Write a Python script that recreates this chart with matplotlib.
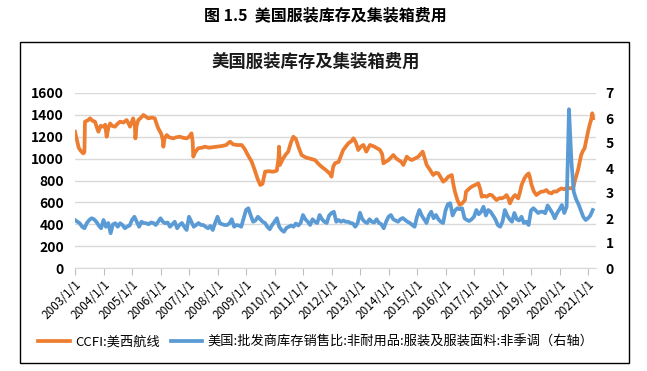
import matplotlib
matplotlib.use('Agg')
import matplotlib.pyplot as plt
from matplotlib.patches import Rectangle
import numpy as np

plt.rcParams['font.family'] = ['Noto Sans CJK SC', 'DejaVu Sans']

# CCFI:美西航线 (周度, 拐点, 年份小数)
ccfi_t = [2003.00, 2003.04, 2003.08, 2003.13, 2003.18, 2003.24, 2003.29, 2003.33, 2003.35, 2003.45,
          2003.53, 2003.62, 2003.70, 2003.76, 2003.82, 2003.90, 2004.00, 2004.06, 2004.11, 2004.17,
          2004.23, 2004.30, 2004.40, 2004.50, 2004.58, 2004.70, 2004.81, 2004.88, 2004.93, 2005.00,
          2005.04, 2005.10, 2005.12, 2005.16, 2005.22, 2005.30, 2005.40, 2005.48, 2005.57, 2005.70,
          2005.80, 2005.86, 2005.92, 2006.00, 2006.04, 2006.08, 2006.10, 2006.14, 2006.22, 2006.30,
          2006.45, 2006.55, 2006.68, 2006.80, 2006.92, 2007.00, 2007.09, 2007.13, 2007.15, 2007.22,
          2007.32, 2007.45, 2007.56, 2007.70, 2007.85, 2008.00, 2008.15, 2008.30, 2008.44, 2008.55,
          2008.70, 2008.85, 2008.95, 2009.05, 2009.20, 2009.30, 2009.40, 2009.50, 2009.58, 2009.67,
          2009.80, 2009.95, 2010.08, 2010.14, 2010.16, 2010.19, 2010.30, 2010.40, 2010.48, 2010.58,
          2010.66, 2010.75, 2010.85, 2010.95, 2011.10, 2011.25, 2011.42, 2011.55, 2011.65, 2011.78,
          2011.87, 2011.95, 2012.00, 2012.06, 2012.12, 2012.25, 2012.41, 2012.59, 2012.70, 2012.77,
          2012.85, 2012.94, 2013.03, 2013.12, 2013.22, 2013.35, 2013.50, 2013.70, 2013.78, 2013.82,
          2013.90, 2014.00, 2014.17, 2014.28, 2014.35, 2014.45, 2014.52, 2014.60, 2014.64, 2014.72,
          2014.81, 2014.92, 2015.05, 2015.12, 2015.20, 2015.34, 2015.45, 2015.57, 2015.66, 2015.75,
          2015.85, 2015.92, 2016.02, 2016.10, 2016.22, 2016.28, 2016.33, 2016.42, 2016.50, 2016.58,
          2016.63, 2016.68, 2016.72, 2016.85, 2016.92, 2017.04, 2017.15, 2017.22, 2017.27, 2017.36,
          2017.44, 2017.55, 2017.62, 2017.72, 2017.79, 2017.90, 2017.97, 2018.08, 2018.14, 2018.20,
          2018.26, 2018.35, 2018.44, 2018.50, 2018.55, 2018.62, 2018.67, 2018.77, 2018.85, 2018.92,
          2018.97, 2019.02, 2019.10, 2019.19, 2019.30, 2019.37, 2019.45, 2019.54, 2019.62, 2019.72,
          2019.80, 2019.89, 2019.98, 2020.07, 2020.16, 2020.25, 2020.34, 2020.42, 2020.50, 2020.53,
          2020.60, 2020.65, 2020.70, 2020.76, 2020.82, 2020.88, 2020.95, 2021.00, 2021.06, 2021.12,
          2021.15, 2021.18]
ccfi_v = [1246, 1200, 1155, 1100, 1079, 1060, 1048, 1060, 1338, 1350,
          1368, 1345, 1338, 1290, 1246, 1300, 1292, 1310, 1200, 1280,
          1322, 1300, 1292, 1320, 1338, 1330, 1353, 1320, 1292, 1340,
          1368, 1300, 1185, 1300, 1353, 1370, 1399, 1385, 1368, 1375,
          1368, 1320, 1277, 1240, 1216, 1170, 1109, 1180, 1216, 1195,
          1185, 1195, 1200, 1190, 1185, 1200, 1231, 1150, 1018, 1060,
          1094, 1100, 1109, 1100, 1105, 1110, 1115, 1124, 1155, 1130,
          1124, 1124, 1090, 1040, 972, 900, 820, 759, 770, 881,
          885, 880, 890, 1000, 1109, 942, 1000, 1040, 1063, 1150,
          1200, 1180, 1100, 1033, 1010, 1000, 987, 950, 926, 900,
          880, 860, 835, 926, 957, 970, 1079, 1140, 1160, 1186,
          1150, 1079, 1110, 1125, 1064, 1125, 1110, 1079, 1040, 957,
          970, 987, 1033, 1000, 987, 970, 942, 990, 1018, 1000,
          987, 1000, 1018, 1040, 1064, 942, 900, 850, 870, 865,
          820, 789, 810, 835, 850, 760, 698, 620, 576, 590,
          606, 620, 698, 730, 744, 759, 774, 720, 652, 660,
          652, 670, 667, 640, 621, 640, 636, 650, 667, 640,
          591, 640, 667, 650, 636, 700, 759, 820, 850, 865,
          820, 759, 700, 667, 690, 698, 700, 713, 690, 682,
          700, 698, 715, 728, 720, 733, 730, 728, 750, 789,
          850, 896, 960, 1033, 1070, 1094, 1180, 1246, 1310, 1368,
          1415, 1370]

# 美国:批发商库存销售比:非耐用品:服装及服装面料:非季调 (月度, 2003/1 起)
ratio_2003_2007 = [1.92, 1.85, 1.79, 1.65, 1.59, 1.80, 1.92, 1.99, 1.95, 1.85, 1.70, 1.59,
                   1.92, 1.65, 1.80, 1.39, 1.75, 1.79, 1.65, 1.79, 1.72, 1.59, 1.66, 1.70,
                   1.92, 2.05, 1.85, 1.65, 1.85, 1.80, 1.79, 1.75, 1.82, 1.80, 1.72, 1.85,
                   1.99, 1.85, 1.79, 1.82, 1.65, 1.75, 1.85, 1.59, 1.72, 1.80, 1.65, 1.52,
                   2.05, 1.85, 1.65, 1.72, 1.80, 1.72, 1.72, 1.65, 1.59, 1.68, 1.52, 1.80]
ratio_2008_2012 = [2.05, 1.79, 1.75, 1.72, 1.72, 1.78, 1.95, 1.65, 1.72, 1.70, 1.65, 1.99,
                   2.32, 2.39, 2.10, 1.85, 1.90, 2.05, 1.95, 1.85, 1.80, 1.65, 1.55, 1.72,
                   1.85, 1.99, 1.65, 1.52, 1.45, 1.60, 1.65, 1.70, 1.65, 1.78, 1.70, 1.80,
                   2.12, 1.95, 1.85, 1.72, 1.95, 1.85, 1.80, 2.12, 1.95, 1.85, 1.80, 2.10,
                   2.20, 2.25, 1.85, 1.92, 1.85, 1.90, 1.85, 1.85, 1.80, 1.78, 1.65, 1.80]
ratio_2013_2017 = [2.21, 1.95, 1.85, 1.80, 1.95, 1.85, 1.82, 1.95, 1.80, 1.75, 1.59, 1.85,
                   2.05, 2.12, 1.95, 1.90, 1.85, 1.95, 2.00, 1.92, 1.85, 1.80, 1.72, 1.65,
                   2.05, 2.32, 2.10, 1.95, 1.80, 2.10, 2.25, 1.99, 2.12, 1.95, 1.85, 1.80,
                   2.30, 2.55, 2.59, 2.10, 2.30, 2.39, 2.35, 2.39, 1.99, 1.92, 1.88, 1.95,
                   2.05, 2.32, 2.15, 2.25, 2.45, 2.10, 2.32, 2.25, 2.10, 1.95, 1.72, 1.65]
ratio_2018_2021 = [1.85, 2.32, 2.10, 1.95, 1.85, 2.20, 1.95, 1.90, 2.05, 1.80, 1.85, 1.72,
                   2.30, 2.39, 2.30, 2.20, 2.25, 2.25, 2.19, 2.50, 2.35, 2.20, 1.99, 2.20,
                   2.35, 2.52, 2.20, 2.45, 6.35, 4.30, 3.05, 2.75, 2.55, 2.30, 2.05, 1.92,
                   1.99, 2.10, 2.32]

years = list(range(2003, 2022))
orange = '#ED7D31'
blue = '#5B9BD5'

ratio = ratio_2003_2007 + ratio_2008_2012 + ratio_2013_2017 + ratio_2018_2021
ratio_t = 2003 + np.arange(len(ratio)) / 12

fig = plt.figure(figsize=(6.47, 3.71), dpi=100)

# 外框
fig.patches.append(Rectangle((19.5 / 647, 1 - 363 / 371), 609 / 647, 321.5 / 371,
                             transform=fig.transFigure, fill=False, edgecolor='black', linewidth=1.0))

fig.text(325 / 647, 1 - 15 / 371, '图 1.5  美国服装库存及集装箱费用', ha='center', va='center',
         fontsize=11.5, fontweight='bold')
fig.text(316 / 647, 1 - 62 / 371, '美国服装库存及集装箱费用', ha='center', va='center',
         fontsize=12.5, fontweight='bold', color='#1a1a1a')

ax = fig.add_axes([75 / 647, 1 - 268 / 371, 521 / 647, 175 / 371])
l1, = ax.plot(ccfi_t, ccfi_v, color=orange, linewidth=2.7, label='CCFI:美西航线')
ax.set_xlim(2003, 2003 + 521 / 28.5)
ax.set_ylim(0, 1600)
ax.set_yticks(range(0, 1601, 200))
ax.yaxis.grid(True, color='#D9D9D9', linewidth=1)
ax.set_axisbelow(True)
for s in ['top', 'left', 'right']:
    ax.spines[s].set_visible(False)
ax.spines['bottom'].set_color('#D9D9D9')
ax.tick_params(axis='y', length=0, pad=8, labelsize=10)
ax.set_xticks(years)
ax.set_xticklabels([f'{y}/1/1' for y in years], rotation=45, ha='right',
                   rotation_mode='anchor', fontsize=8.5)
ax.tick_params(axis='x', length=5, color='#BFBFBF', pad=2)
for lab in ax.get_yticklabels():
    lab.set_fontweight('bold')

ax2 = ax.twinx()
l2, = ax2.plot(ratio_t, ratio, color=blue, linewidth=2.7,
               label='美国:批发商库存销售比:非耐用品:服装及服装面料:非季调（右轴）')
ax2.set_ylim(0, 7)
ax2.set_yticks(range(0, 8))
for s in ax2.spines.values():
    s.set_visible(False)
ax2.tick_params(axis='y', length=0, pad=7, labelsize=10)
for lab in ax2.get_yticklabels():
    lab.set_fontweight('bold')

fig.legend(handles=[l1, l2], loc='center', bbox_to_anchor=(316 / 647, 1 - 342 / 371),
           ncol=2, frameon=False, handlelength=2.4, columnspacing=0.8, handletextpad=0.4,
           prop={'size': 9.5, 'weight': 'medium'})

fig.savefig('out.png', dpi=100)
